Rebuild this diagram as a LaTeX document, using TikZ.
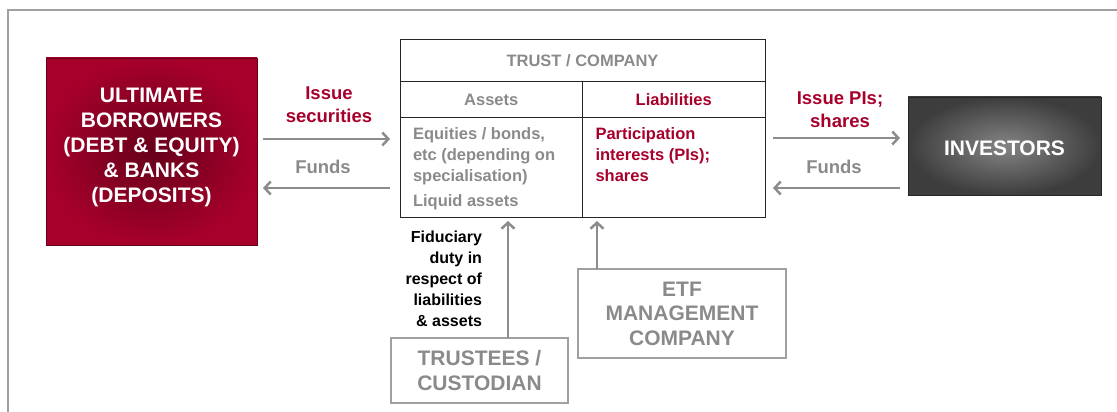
\documentclass[tikz,border=0pt]{standalone}
\usepackage{fontspec}
\setmainfont{Liberation Sans}
\usepackage{tikz}
\usetikzlibrary{positioning,arrows.meta}
\definecolor{crimson}{HTML}{A6002B}
\definecolor{txtgray}{HTML}{8A8A8A}
\definecolor{arrowgray}{HTML}{8C8C8C}
\definecolor{framegray}{HTML}{A0A0A0}
\tikzset{
  basic/.style     = {font=\bfseries, align=center, inner sep=0pt, outer sep=0pt, rectangle},
  borrowbox/.style = {basic, inner color=crimson!62!black, outer color=crimson,
                      draw=crimson!60!black, thin, text=white,
                      font=\bfseries\fontsize{21}{25}\selectfont},
  investbox/.style = {basic, inner color=black!48, outer color=black!76,
                      draw=black!85, thin, text=white,
                      font=\bfseries\fontsize{21}{25}\selectfont},
  cell/.style      = {basic, draw=black!85, line width=1pt,
                      font=\bfseries\fontsize{16.5}{21}\selectfont},
  bodytext/.style  = {basic, align=left, font=\bfseries\fontsize{16.5}{21}\selectfont},
  sidebox/.style   = {basic, draw=framegray, line width=1.5pt, text=txtgray,
                      font=\bfseries\fontsize{21}{24.5}\selectfont},
  arrowlabel/.style = {basic, font=\bfseries\fontsize{18.5}{23}\selectfont},
  flow/.style      = {->, draw=arrowgray, line width=2.5pt}
}
\begin{document}
\begin{tikzpicture}[x=1pt, y=-1pt,
        >={Straight Barb[length=6pt, width=13pt]}]
        \useasboundingbox (0,0) rectangle (1117,412);
        % outer frame, only top and left edge show
        \draw[framegray, line width=1.5pt] (8,412) -- (8,10) -- (1117,10);
        % the two parties at the sides
        \node[borrowbox, minimum width=211pt, minimum height=187pt] (borrowers)
          at (151.5,151.5) {};
        \node[basic, text=white, font=\bfseries\fontsize{21}{25}\selectfont]
          (borrowText) at ([yshift=4pt]borrowers.center)
          {ULTIMATE\\BORROWERS\\(DEBT \& EQUITY)\\\& BANKS\\(DEPOSITS)};
        \node[investbox, minimum width=193pt, minimum height=98pt] (investors)
          at (1004.5,146) {};
        \node[basic, text=white, font=\bfseries\fontsize{21}{25}\selectfont]
          (investText) at ([yshift=-2pt]investors.center) {INVESTORS};
        % the trust table, cells placed one against the other
        \node[cell, text=txtgray, minimum width=365pt, minimum height=42pt] (trust)
          at (582.5,61) {TRUST / COMPANY};
        \node[cell, text=txtgray, minimum width=182.5pt, minimum height=35pt,
          below right=0pt and 0pt of trust.south west] (asHead) {Assets};
        \node[cell, text=crimson, minimum width=182.5pt, minimum height=35pt,
          right=0pt of asHead] (liHead) {Liabilities};
        \node[cell, minimum width=182.5pt, minimum height=100pt,
          below=0pt of asHead] (asBody) {};
        \node[cell, minimum width=182.5pt, minimum height=100pt,
          below=0pt of liHead] (liBody) {};
        \node[bodytext, text=txtgray, below right=11pt and 13pt of asBody.north west]
          (asText) {Equities / bonds,\\etc (depending on\\specialisation)};
        \node[bodytext, text=txtgray, below right=9pt and 0pt of asText.south west]
          (liquid) {Liquid assets};
        \node[bodytext, text=crimson, below right=11pt and 13pt of liBody.north west]
          (liText) {Participation\\interests (PIs);\\shares};
        % the boxes below the table
        \node[sidebox, minimum width=177pt, minimum height=65pt] (trustees)
          at (479.5,370.5) {TRUSTEES /\\CUSTODIAN};
        \node[sidebox, minimum width=208pt, minimum height=89pt] (etf)
          at (682,313.5) {ETF\\MANAGEMENT\\COMPANY};
        % flows between the parties and the table
        \coordinate (issL) at ([yshift=12.5pt]borrowers.east);
        \coordinate (fundL) at ([yshift=-36.5pt]borrowers.east);
        \coordinate (issR) at ([yshift=8pt]investors.west);
        \coordinate (fundR) at ([yshift=-42pt]investors.west);
        \draw[flow, shorten <=6pt, shorten >=10pt] (issL) -- (issL -| asBody.west);
        \draw[flow, shorten <=10pt, shorten >=6pt] (fundL -| asBody.west) -- (fundL);
        \draw[flow, shorten <=8pt, shorten >=8pt] (issR -| liBody.east) -- (issR);
        \draw[flow, shorten <=8pt, shorten >=8pt] (fundR) -- (fundR -| liBody.east);
        \coordinate (dutyT) at ([xshift=28.5pt]trustees.north);
        \coordinate (mgmtT) at ([xshift=-85pt]etf.north);
        \draw[flow, shorten >=4pt] (dutyT) -- (dutyT |- asBody.south);
        \draw[flow, shorten >=4pt] (mgmtT) -- (mgmtT |- liBody.south);
        % labels of the flows
        \node[arrowlabel, text=crimson] (issLbl) at (329,104.5) {Issue\\securities};
        \node[arrowlabel, text=txtgray] (fundLbl) at (323,167) {Funds};
        \node[arrowlabel, text=crimson] (issRLbl) at (840,110) {Issue PIs;\\shares};
        \node[arrowlabel, text=txtgray] (fundRLbl) at (834,167) {Funds};
        \node[basic, align=right, anchor=east, font=\bfseries\fontsize{16}{21}\selectfont]
          (duty) at (482,279) {Fiduciary\\duty in\\respect of\\liabilities\\\& assets};
\end{tikzpicture}
\end{document}
